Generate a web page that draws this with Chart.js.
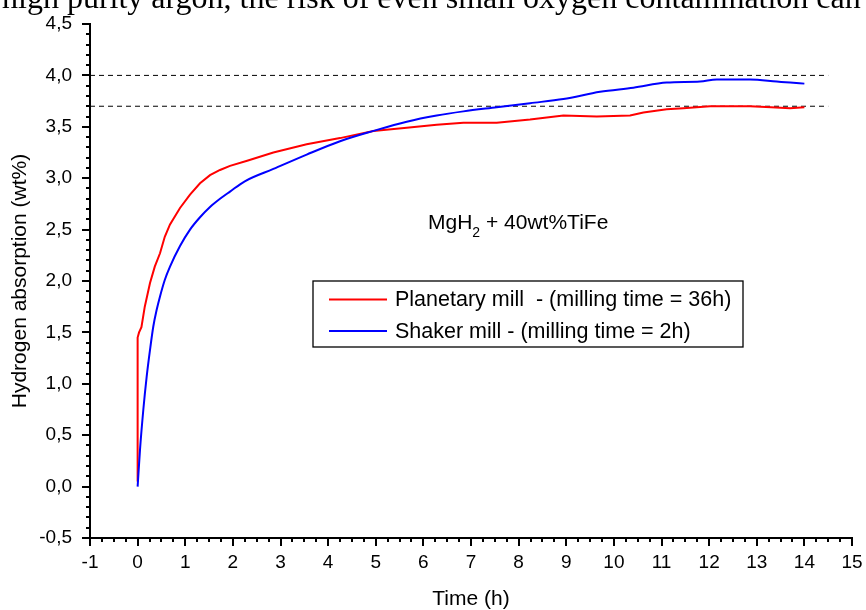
<!DOCTYPE html>
<html>
<head>
<meta charset="utf-8">
<script src="https://cdn.jsdelivr.net/npm/chart.js@4.4.1/dist/chart.umd.min.js"></script>
<style>
  body { margin: 0; background: #fff; }
  #wrap { position: relative; width: 866px; height: 610px; overflow: hidden; }
</style>
</head>
<body>
<div id="wrap"><canvas id="absChart" width="866" height="610"></canvas></div>
<script>
// Data
// **************************************
const planetaryTime = [0, 0, 0.03, 0.08, 0.15, 0.26, 0.36, 0.47, 0.57, 0.68, 0.89, 1.1, 1.31, 1.52, 1.73, 1.94, 2.3, 2.85, 3.55, 4.25, 4.95, 5.65, 6.28, 6.84, 7.54, 8.24, 8.94, 9.64, 10.34, 10.62, 11.11, 11.46, 12.02, 12.86, 13.3, 13.7, 14.0];
const planetaryWt = [0.05, 1.45, 1.5, 1.55, 1.75, 1.98, 2.14, 2.27, 2.43, 2.55, 2.71, 2.84, 2.95, 3.03, 3.08, 3.12, 3.17, 3.25, 3.33, 3.39, 3.46, 3.49, 3.52, 3.54, 3.54, 3.57, 3.61, 3.6, 3.61, 3.64, 3.67, 3.68, 3.7, 3.7, 3.69, 3.68, 3.69];

const shakerTime = [0, 0.05, 0.12, 0.19, 0.26, 0.33, 0.4, 0.47, 0.57, 0.68, 0.89, 1.1, 1.31, 1.52, 1.73, 1.94, 2.25, 2.85, 3.55, 4.25, 4.95, 5.65, 6.28, 6.84, 7.54, 8.24, 8.94, 9.71, 10.41, 11.11, 11.81, 12.16, 12.86, 13.42, 13.7, 14.0];
const shakerWt = [0, 0.36, 0.75, 1.07, 1.33, 1.56, 1.72, 1.85, 2.01, 2.14, 2.34, 2.5, 2.62, 2.72, 2.8, 2.87, 2.97, 3.09, 3.23, 3.36, 3.46, 3.55, 3.61, 3.65, 3.69, 3.73, 3.77, 3.84, 3.88, 3.93, 3.94, 3.96, 3.96, 3.94, 3.93, 3.92];

// reference levels (dashed)
const refLevels = [4.0, 3.7];
const refSpan = [-1, 14.5];

const xTicks = [-1, 0, 1, 2, 3, 4, 5, 6, 7, 8, 9, 10, 11, 12, 13, 14, 15];
const yTicks = [-0.5, 0, 0.5, 1, 1.5, 2, 2.5, 3, 3.5, 4, 4.5];

const seriesNames = ['Planetary mill  - (milling time = 36h)', 'Shaker mill - (milling time = 2h)'];
const seriesColors = ['#ff0000', '#0000ff'];

const toPoints = (xs, ys) => xs.map((x, i) => ({ x: x, y: ys[i] }));

// Datasets (first one is drawn on top)
// **************************************
const datasets = [
  {
    label: seriesNames[1],
    data: toPoints(shakerTime, shakerWt),
    borderColor: seriesColors[1],
    borderWidth: 2,
    pointRadius: 0,
    cubicInterpolationMode: 'monotone',
  },
  {
    label: seriesNames[0],
    data: toPoints(planetaryTime, planetaryWt),
    borderColor: seriesColors[0],
    borderWidth: 2,
    pointRadius: 0,
  },
];
refLevels.forEach((lvl) => {
  datasets.push({
    label: 'ref ' + lvl,
    data: refSpan.map((x) => ({ x: x, y: lvl })),
    borderColor: '#000',
    borderWidth: 1,
    borderDash: [5, 4],
    pointRadius: 0,
  });
});

// Axis ticks (major + minor), drawn from the scales
// **************************************
const tickMarks = {
  id: 'tickMarks',
  afterDraw(chart) {
    const ctx = chart.ctx;
    const xs = chart.scales.x;
    const ys = chart.scales.y;
    ctx.save();
    ctx.strokeStyle = '#000';
    ctx.lineWidth = 2;
    ctx.beginPath();
    for (let i = 0; i <= (xs.max - xs.min) * 4; i++) {
      const px = Math.round(xs.getPixelForValue(xs.min + i * 0.25));
      const len = i % 4 === 0 ? 8 : 4;
      ctx.moveTo(px, xs.top);
      ctx.lineTo(px, xs.top + len);
    }
    for (let i = 0; i <= Math.round((ys.max - ys.min) * 10); i++) {
      const py = Math.round(ys.getPixelForValue(ys.min + i * 0.1));
      const len = i % 5 === 0 ? 8 : 4;
      ctx.moveTo(ys.right, py);
      ctx.lineTo(ys.right - len, py);
    }
    ctx.stroke();
    ctx.restore();
  },
};

// Legend box, annotation and the clipped line of page text
// **************************************
const extras = {
  id: 'extras',
  afterDraw(chart) {
    const ctx = chart.ctx;
    const area = chart.chartArea;
    ctx.save();

    // text of the page above the figure
    ctx.fillStyle = '#000';
    ctx.font = '32px "Liberation Serif"';
    ctx.textBaseline = 'alphabetic';
    ctx.textAlign = 'left';
    ctx.fillText('high purity argon, the risk of even small oxygen contamination can', 2, 8);

    // annotation
    ctx.font = '21px "Liberation Sans"';
    const ax = area.left + 338;
    const ay = 229;
    ctx.fillText('MgH', ax, ay);
    let w = ctx.measureText('MgH').width;
    ctx.font = '14px "Liberation Sans"';
    ctx.fillText('2', ax + w, ay + 8);
    w += ctx.measureText('2').width;
    ctx.font = '21px "Liberation Sans"';
    ctx.fillText(' + 40wt%TiFe', ax + w, ay);

    // legend
    const lx = area.left + 223;
    const ly = 281;
    ctx.lineWidth = 1.3;
    ctx.strokeStyle = '#000';
    ctx.strokeRect(lx, ly, 430, 66);
    ctx.font = '21.5px "Liberation Sans"';
    ctx.textBaseline = 'middle';
    [0, 1].forEach((k) => {
      const cy = ly + 18.5 + k * 31.5;
      ctx.strokeStyle = seriesColors[k];
      ctx.lineWidth = 2;
      ctx.beginPath();
      ctx.moveTo(lx + 16, cy);
      ctx.lineTo(lx + 74, cy);
      ctx.stroke();
      ctx.fillStyle = '#000';
      ctx.fillText(seriesNames[k], lx + 82, cy + 1);
    });
    ctx.restore();
  },
};

// Config
// ********************
const config = {
  type: 'line',
  data: { datasets: datasets },
  options: {
    responsive: false,
    animation: false,
    devicePixelRatio: 1,
    layout: { padding: { top: 24, right: 14, left: 0, bottom: 0 } },
    plugins: {
      legend: { display: false },
      tooltip: { enabled: false },
    },
    scales: {
      x: {
        type: 'linear',
        min: -1,
        max: 15,
        afterBuildTicks: (s) => { s.ticks = xTicks.map((v) => ({ value: v })); },
        afterFit: (s) => { s.height = 72; s.paddingLeft = 0; s.paddingRight = 0; },
        grid: { display: false, drawTicks: false },
        border: { display: true, color: '#000', width: 2 },
        ticks: {
          color: '#000',
          font: { family: 'Liberation Sans', size: 19 },
          padding: 13,
          maxRotation: 0,
          autoSkip: false,
          callback: (v) => `${v}`,
        },
        title: {
          display: true,
          text: 'Time (h)',
          color: '#000',
          font: { family: 'Liberation Sans', size: 21, lineHeight: 1 },
          padding: { top: 0, bottom: 0 },
        },
      },
      y: {
        type: 'linear',
        min: -0.5,
        max: 4.5,
        afterBuildTicks: (s) => { s.ticks = yTicks.map((v) => ({ value: v })); },
        afterFit: (s) => { s.width = 90; s.paddingTop = 2; s.paddingBottom = 0; },
        grid: { display: false, drawTicks: false },
        border: { display: true, color: '#000', width: 2 },
        ticks: {
          color: '#000',
          font: { family: 'Liberation Sans', size: 19 },
          padding: 18,
          autoSkip: false,
          callback: (v) => v.toFixed(1).replace('.', ','),
        },
        title: {
          display: true,
          text: 'Hydrogen absorption (wt%)',
          color: '#000',
          font: { family: 'Liberation Sans', size: 21, lineHeight: 1 },
          padding: { top: 10, bottom: 0 },
        },
      },
    },
  },
  plugins: [tickMarks, extras],
};

// Render
new Chart(document.getElementById('absChart'), config);
</script>
</body>
</html>
